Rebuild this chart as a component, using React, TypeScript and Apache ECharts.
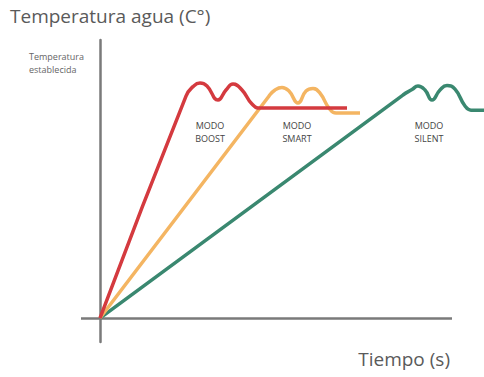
import React, { useEffect, useRef } from "react";
import * as echarts from "echarts";

// x: time units, y: temperature (setpoint ≈ 100)
const boostTime = [0, 21.5, 23.25, 25, 26.75, 29.5, 31.5, 33.25, 35.5, 38, 40, 61.75];
const boostTemp = [0, 105.7, 110.2, 111.9, 110.5, 103.8, 108.6, 111.4, 108.6, 101.9, 100, 100];

const smartTime = [0, 42.25, 43.75, 45.5, 47.25, 49.5, 51.5, 53.25, 55, 57.25, 59, 65];
const smartTemp = [0, 105.7, 108.6, 109.8, 108.1, 102.4, 108.1, 109.3, 107.1, 100, 97.6, 97.6];

const silentTime = [0, 75.75, 78, 79.5, 81.25, 83, 85, 86.75, 88.75, 91.25, 92.75, 96];
const silentTemp = [0, 106.2, 108.8, 110.5, 108.6, 103.8, 108.6, 110.7, 109, 101, 99, 99];

const modeNames = ["MODO\nBOOST", "MODO\nSMART", "MODO\nSILENT"];
const modeLabelTime = [27.5, 49.25, 82.25];
const modeLabelTemp = [88.6, 88.6, 88.6];

// time-axis extent drawn as the horizontal axis line
const timeAxisStart = -4.75;
const timeAxisEnd = 88;

const colors = ["#d43a3f", "#f4b562", "#3a8870"];

const FONT = "'Open Sans', 'Noto Sans', sans-serif";

function pairs(xs: number[], ys: number[]) {
  return xs.map((x, i) => [x, ys[i]]);
}

export default function App() {
  const ref = useRef<HTMLDivElement>(null);
  useEffect(() => {
    if (!ref.current) return;
    const chart = echarts.init(ref.current, null, { renderer: "svg" });
    const seriesData = [
      pairs(boostTime, boostTemp),
      pairs(smartTime, smartTemp),
      pairs(silentTime, silentTemp),
    ];
    chart.setOption({
      animation: false,
      backgroundColor: "#ffffff",
      title: {
        text: "Temperatura agua (C°)",
        left: 5,
        top: 1,
        textStyle: { fontFamily: FONT, fontSize: 19, fontWeight: "normal", color: "#5a5a5a" },
      },
      grid: { left: 81, right: 0, top: 40, bottom: 35 },
      xAxis: {
        type: "value",
        min: -4.75,
        max: 96,
        axisLine: { show: false },
        axisTick: { show: false },
        axisLabel: { show: false },
        splitLine: { show: false },
      },
      yAxis: {
        type: "value",
        min: -11.4,
        max: 132.4,
        axisLine: { show: true, onZero: true, lineStyle: { color: "#7a7a7a", width: 2.5 } },
        axisTick: { show: false },
        axisLabel: { show: false },
        splitLine: { show: false },
      },
      series: seriesData.map((d, i) => ({
        type: "line",
        data: d,
        smooth: 0.5,
        symbol: "none",
        z: 5 - i,
        lineStyle: { color: colors[i], width: 3.5 },
        markLine:
          i === 0
            ? {
                silent: true,
                symbol: "none",
                z: 1,
                label: { show: false },
                lineStyle: { color: "#7a7a7a", width: 2.5, type: "solid" },
                data: [[{ coord: [timeAxisStart, 0] }, { coord: [timeAxisEnd, 0] }]],
              }
            : undefined,
        markPoint: {
          symbol: "circle",
          symbolSize: 0,
          data: [
            {
              coord: [modeLabelTime[i], modeLabelTemp[i]],
              label: {
                show: true,
                position: "inside",
                formatter: modeNames[i],
                fontFamily: FONT,
                fontSize: 9,
                lineHeight: 13,
                color: "#444",
                align: "center",
              },
            },
          ],
        },
      })),
      graphic: [
        {
          type: "text",
          right: 484 - 84,
          top: 50,
          style: {
            text: "Temperatura\nestablecida",
            fontFamily: FONT,
            fontSize: 9,
            lineHeight: 13,
            fill: "#666",
            align: "right",
          },
        },
        {
          type: "text",
          right: 34,
          top: 349,
          style: {
            text: "Tiempo (s)",
            fontFamily: FONT,
            fontSize: 19,
            fill: "#5a5a5a",
          },
        },
      ],
    });
    return () => chart.dispose();
  }, []);
  return <div ref={ref} style={{ width: 484, height: 377, position: "absolute", left: 0, top: 0 }} />;
}
